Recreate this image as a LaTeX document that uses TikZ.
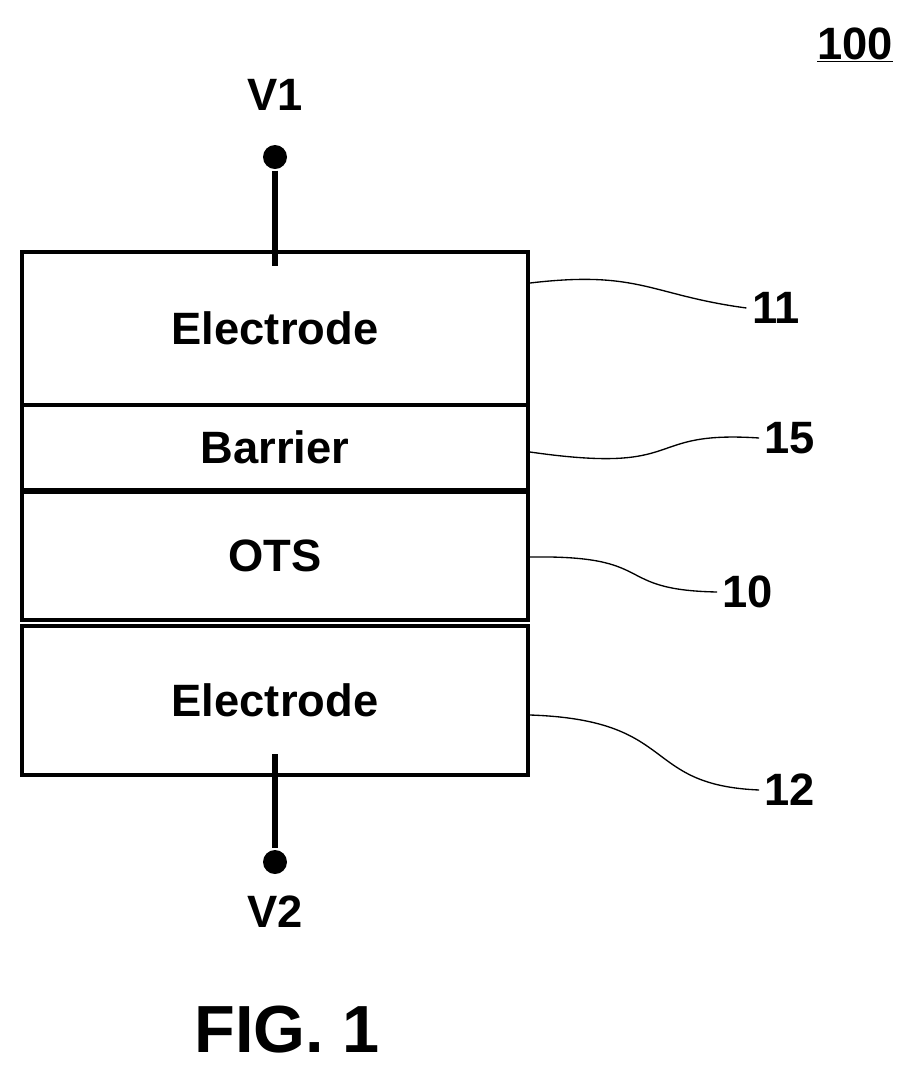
\documentclass[tikz,border=0pt]{standalone}
\usepackage{fontspec}
\setmainfont{Liberation Sans}
\usetikzlibrary{positioning}
\tikzset{every picture/.style={line width=2.4pt},
  layer/.style={draw,minimum width=506*0.75pt,inner sep=0pt,font=\fontsize{34}{36}\selectfont\bfseries},
  lbl/.style={font=\fontsize{34}{36}\selectfont\bfseries,inner sep=3pt},
  lead/.style={line width=1pt},
  term/.style={circle,fill,inner sep=0pt,minimum size=24*0.75pt}}
\begin{document}
\begin{tikzpicture}[x=0.75pt,y=0.75pt,yscale=-1,xscale=1]
\useasboundingbox (0,0) rectangle (923,1076);

% layers
\node[layer,minimum height=153*0.75pt] (el1) at (275,328.5) {Electrode};
\node[layer,minimum height=85*0.75pt] (bar) at (275,447.5) {Barrier};
\node[layer,minimum height=128*0.75pt] (ots) at (275,556) {OTS};
\node[layer,minimum height=149*0.75pt] (el2) at (275,700.5) {Electrode};

% terminals
\node[term] (t1) at (275,157) {};
\node[term] (t2) at (275,862) {};
\draw[line width=4pt] (t1) -- (275,266);
\draw[line width=4pt] (275,754) -- (t2);
\node[lbl] (v1) at (275,95) {V1};
\node[lbl] (v2) at (275,912) {V2};

% reference numerals
\node[lbl] (n100) at (855,45) {\underline{100}};
\node[lbl] (n11) at (776,308) {11};
\node[lbl] (n15) at (790,438) {15};
\node[lbl] (n10) at (748,592) {10};
\node[lbl] (n12) at (790,790) {12};
\draw[lead] (530,283) .. controls (640,270) and (650,295) .. (n11.west);
\draw[lead] (530,452) .. controls (690,475) and (640,430) .. (n15.west);
\draw[lead] (530,557) .. controls (660,555) and (610,590) .. (n10.west);
\draw[lead] (530,715) .. controls (680,720) and (640,785) .. (n12.west);

\node[font=\fontsize{50}{54}\selectfont\bfseries] (fig) at (287,1030) {FIG. 1};
\end{tikzpicture}
\end{document}
